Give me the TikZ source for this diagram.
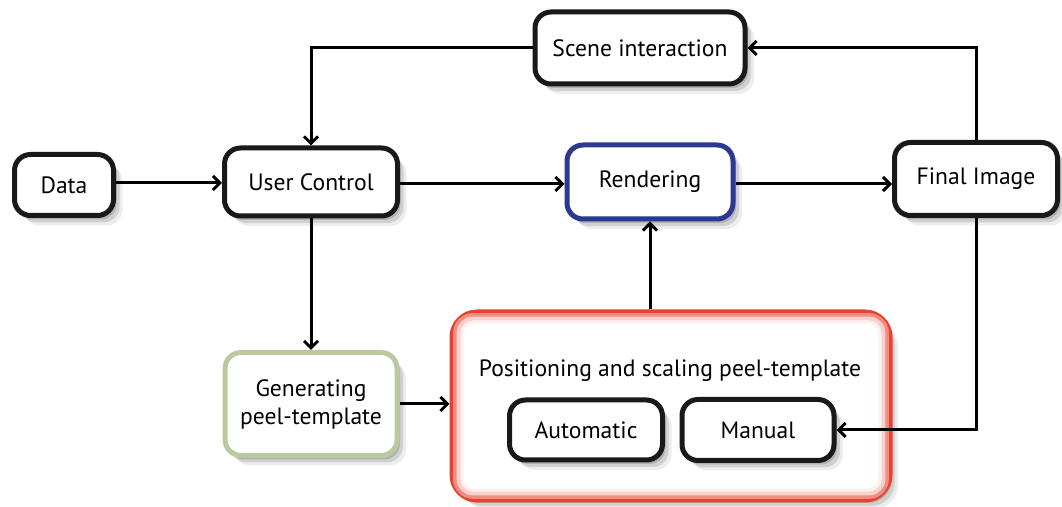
\documentclass[tikz,border=0pt]{standalone}
\usepackage{fontspec}
\setmainfont{PT Sans}
\usetikzlibrary{arrows.meta,positioning,shadows}

\definecolor{boxred}{RGB}{233,65,48}
\definecolor{boxblue}{RGB}{43,57,144}
\definecolor{boxgreen}{RGB}{186,201,160}

\begin{document}
\begin{tikzpicture}[x=0.5pt,y=-0.5pt,line width=1.5pt,
  >={Straight Barb[length=3.5pt,width=7pt]},
  box/.style={draw=black!90,line width=2.5pt,rounded corners=8pt,fill=white,
    align=center,inner sep=0pt,font=\fontsize{11.8}{14}\selectfont,
    general shadow={shadow xshift=1.5pt,shadow yshift=-2pt,fill=black,opacity=0.15},
    general shadow={shadow xshift=3pt,shadow yshift=-3.5pt,fill=black,opacity=0.12},
    general shadow={shadow xshift=4.5pt,shadow yshift=-5pt,fill=black,opacity=0.07}}]
  \useasboundingbox (0,0) rectangle (1062,507);
  \node[box,minimum width=49.5pt,minimum height=30.5pt] (data)   at (64,185)  {Data};
  \node[box,minimum width=86.5pt,minimum height=34pt]   (user)   at (311,182) {User Control};
  \node[box,minimum width=105pt,minimum height=36pt]    (scene)  at (640,48)  {Scene interaction};
  \node[box,draw=boxblue,minimum width=83pt,minimum height=37pt] (render) at (650,182) {Rendering};
  \node[box,minimum width=81.5pt,minimum height=36.5pt] (final)  at (976,179) {Final Image};
  \node[box,draw=boxgreen,minimum width=86pt,minimum height=51.5pt] (gen) at (311,404) {Generating\\peel-template};
  \node[box,draw=boxred,line width=3.5pt,rounded corners=12pt,minimum width=218pt,minimum height=93pt] (pos) at (671,406) {};
  % inner glow of the red frame
  \draw[boxred!60,line width=2pt,rounded corners=9pt] ([shift={(2.8pt,-2.8pt)}]pos.north west) rectangle ([shift={(-2.8pt,2.8pt)}]pos.south east);
  \draw[boxred!25,line width=2pt,rounded corners=7pt] ([shift={(4.6pt,-4.6pt)}]pos.north west) rectangle ([shift={(-4.6pt,4.6pt)}]pos.south east);
  \draw[boxred!8,line width=1.5pt,rounded corners=6pt] ([shift={(6.2pt,-6.2pt)}]pos.north west) rectangle ([shift={(-6.2pt,6.2pt)}]pos.south east);
  \node[font=\fontsize{11.8}{14}\selectfont] (postext) at (670,371) {Positioning and scaling peel-template};
  \node[box,minimum width=76.5pt,minimum height=30pt]   (auto)   at (586,430) {Automatic};
  \node[box,minimum width=76pt,minimum height=30.5pt]   (man)    at (758,430) {Manual};

  \draw[->] (data.east |- 0,183) -- (user.west |- 0,183);
  \draw[->] (user.east |- 0,184) -- (render.west |- 0,184);
  \draw[->] (render.east |- 0,184) -- (final.west |- 0,184);
  \draw[->] (final.north) |- (scene.east);
  \draw[->] (scene.west) -| (user.north);
  \draw[->] (user) -- (gen);
  \draw[->] (gen) -- (gen -| pos.west);
  \draw[->] (render |- pos.north) -- (render.south);
  \draw[->] (final.south) |- (man.east);
\end{tikzpicture}
\end{document}
